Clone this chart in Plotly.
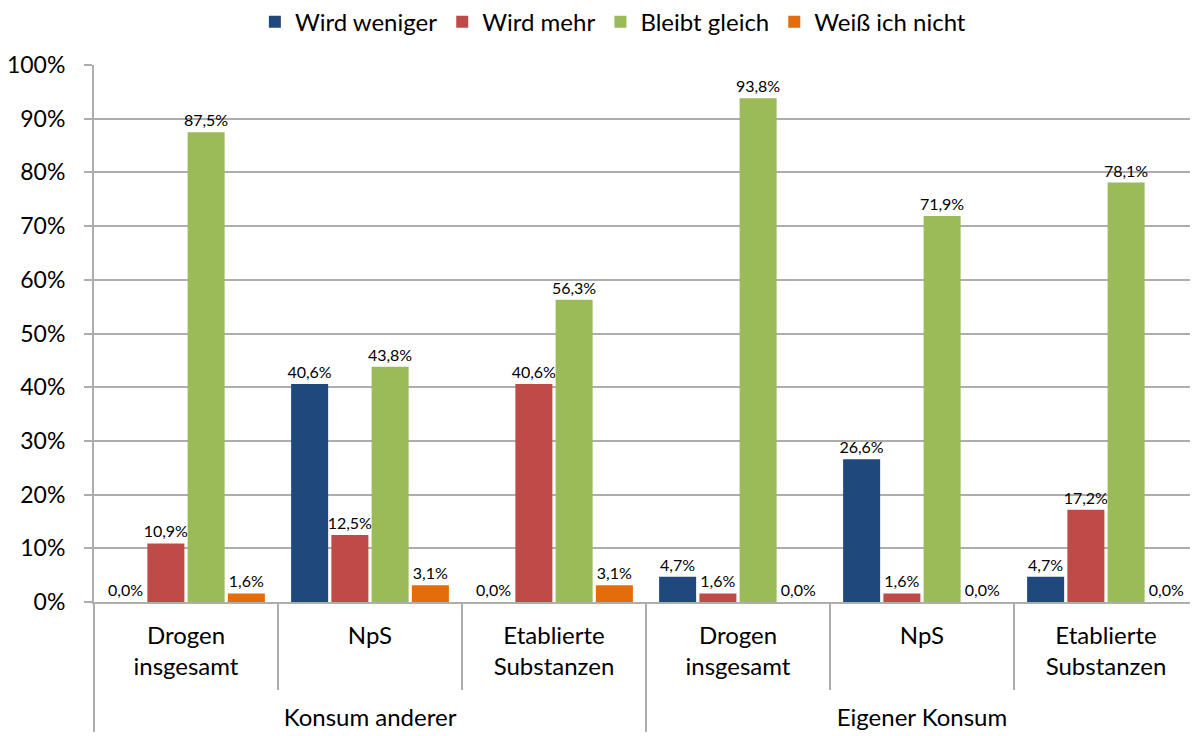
import plotly.graph_objects as go

# Kategorien (zwei Ebenen)
gruppen = ["Konsum anderer"] * 3 + ["Eigener Konsum"] * 3
kategorien = ["Drogen<br>insgesamt", "NpS", "Etablierte<br>Substanzen"] * 2

# Werte in Prozent
wird_weniger = [0.0, 40.6, 0.0, 4.7, 26.6, 4.7]
wird_mehr = [10.9, 12.5, 40.6, 1.6, 1.6, 17.2]
bleibt_gleich = [87.5, 43.8, 56.3, 93.8, 71.9, 78.1]
weiss_nicht = [1.6, 3.1, 3.1, 0.0, 0.0, 0.0]

serien = [
    ("Wird weniger", wird_weniger, "#1F497D"),
    ("Wird mehr", wird_mehr, "#BE4B48"),
    ("Bleibt gleich", bleibt_gleich, "#9BBB59"),
    ("Weiß ich nicht", weiss_nicht, "#E46C0A"),
]

# leere Zeile unter den Kategorien, damit die Gruppen tiefer stehen
kat_labels = [k + "<br>\u00a0" for k in kategorien]

fig = go.Figure()
for name, werte, farbe in serien:
    fig.add_trace(go.Bar(
        x=[gruppen, kat_labels], y=werte, name=name,
        marker=dict(color=farbe, line=dict(width=0)),
        texttemplate="%{y:.1f}%", textposition="outside",
        textfont=dict(size=16, color="#000000"),
        constraintext="none", cliponaxis=False,
    ))

# Seite hat 8px Rand, daher etwas kleiner
fig.update_layout(
    width=1190, height=728,
    barmode="group", bargap=0.125, bargroupgap=0.08,
    separators=",.",
    font=dict(family="Lato, Open Sans, sans-serif", size=24, color="#000000"),
    plot_bgcolor="white", paper_bgcolor="white",
    margin=dict(l=86, r=0, t=57, b=134, autoexpand=False),
    legend=dict(orientation="h", x=0.47, xanchor="center", y=1.08, yanchor="middle",
                font=dict(size=24), itemwidth=30, traceorder="normal"),
)
fig.update_yaxes(
    range=[0, 100], dtick=10, ticksuffix="%",
    tickfont=dict(size=23),
    showgrid=True, gridcolor="#ADADAD", gridwidth=2,
    showline=True, linecolor="#ADADAD", linewidth=2,
    ticks="outside", ticklen=8, tickcolor="#ADADAD", tickwidth=2,
    ticklabelstandoff=14,
    zeroline=False,
)
fig.update_xaxes(
    showline=True, linecolor="#ADADAD", linewidth=2,
    ticks="outside", tickson="boundaries", ticklen=86, tickcolor="#ADADAD", tickwidth=2,
    showdividers=True, dividercolor="#ADADAD", dividerwidth=2,
    ticklabelstandoff=11,
)

fig.write_html("out.html")
